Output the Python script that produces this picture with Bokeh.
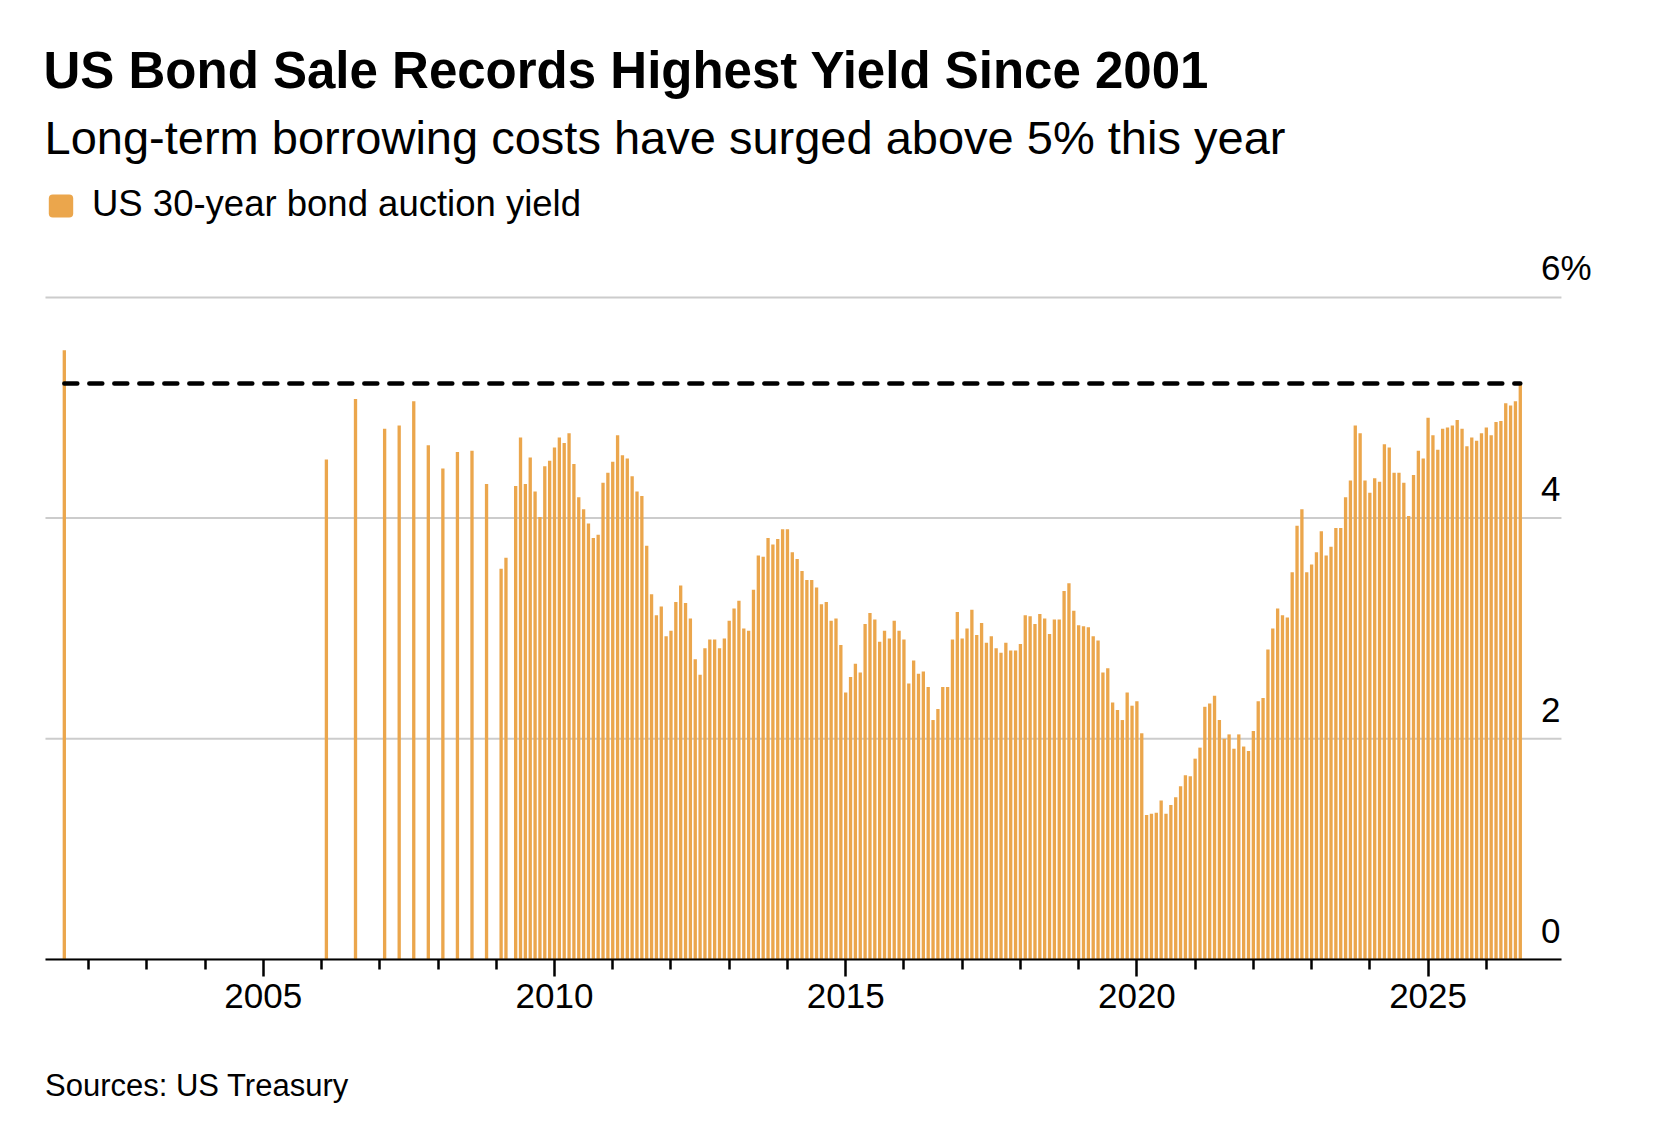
import pandas as pd
from bokeh.plotting import figure
from bokeh.layouts import column
from bokeh.models import (Range1d, FixedTicker, Label, LabelSet,
                          BoxAnnotation, ColumnDataSource)
from bokeh.core.properties import value
from bokeh.embed import file_html
from bokeh.resources import INLINE

# ---------------- data ----------------
# early (irregular) auctions
early_months = ["2001-08", "2006-02", "2006-08", "2007-02", "2007-05", "2007-08",
                "2007-11", "2008-02", "2008-05", "2008-08", "2008-11", "2009-02",
                "2009-03"]
early_yields = [5.52, 4.53, 5.08, 4.81, 4.84, 5.06, 4.66, 4.45, 4.60, 4.61, 4.31,
                3.54, 3.64]

# monthly auctions from May 2009
monthly_start = "2009-05"
y2009 = [4.29, 4.73, 4.31, 4.55, 4.24, 4.01, 4.47, 4.52]
y2010 = [4.64, 4.73, 4.68, 4.77, 4.49, 4.19, 4.08, 3.95, 3.82, 3.85, 4.32, 4.41]
y2011 = [4.51, 4.75, 4.57, 4.54, 4.38, 4.24, 4.20, 3.75, 3.31, 3.12, 3.20, 2.93]
y2012 = [2.98, 3.24, 3.39, 3.23, 3.09, 2.72, 2.58, 2.82, 2.90, 2.90, 2.82, 2.91]
y2013 = [3.07, 3.18, 3.25, 3.00, 2.98, 3.35, 3.66, 3.65, 3.82, 3.76, 3.81, 3.90]
y2014 = [3.90, 3.69, 3.63, 3.52, 3.44, 3.44, 3.37, 3.22, 3.24, 3.07, 3.09, 2.85]
y2015 = [2.42, 2.56, 2.68, 2.60, 3.04, 3.14, 3.08, 2.88, 2.98, 2.91, 3.07, 2.98]
y2016 = [2.90, 2.50, 2.71, 2.59, 2.61, 2.47, 2.17, 2.27, 2.47, 2.47, 2.90, 3.15]
y2017 = [2.91, 3.00, 3.17, 2.94, 3.05, 2.87, 2.93, 2.82, 2.78, 2.87, 2.80, 2.80]
y2018 = [2.86, 3.12, 3.11, 3.04, 3.13, 3.09, 2.95, 3.08, 3.08, 3.34, 3.41, 3.16]
y2019 = [3.03, 3.02, 3.01, 2.93, 2.89, 2.60, 2.64, 2.33, 2.26, 2.17, 2.42, 2.30]
y2020 = [2.34, 2.05, 1.31, 1.32, 1.33, 1.44, 1.32, 1.40, 1.47, 1.57, 1.67, 1.66]
y2021 = [1.82, 1.92, 2.29, 2.32, 2.39, 2.17, 2.00, 2.04, 1.91, 2.04, 1.93, 1.89]
y2022 = [2.07, 2.34, 2.37, 2.81, 3.00, 3.18, 3.12, 3.10, 3.51, 3.93, 4.08, 3.51]
y2023 = [3.58, 3.69, 3.88, 3.66, 3.74, 3.91, 3.91, 4.19, 4.34, 4.84, 4.77, 4.34]
y2024 = [4.23, 4.36, 4.33, 4.67, 4.64, 4.41, 4.41, 4.32, 4.02, 4.39, 4.61, 4.54]
y2025 = [4.91, 4.75, 4.62, 4.81, 4.82, 4.84, 4.89, 4.81, 4.65, 4.73, 4.70, 4.77]
y2026 = [4.82, 4.75, 4.87, 4.88, 5.04, 5.02, 5.06, 5.22]

label_years = [2005, 2010, 2015, 2020, 2025]
minor_years = [2002, 2003, 2004, 2006, 2007, 2008, 2009, 2011, 2012, 2013, 2014,
               2016, 2017, 2018, 2019, 2021, 2022, 2023, 2024, 2026]
axis_span = [2001.26, 2027.29]
y_ticks = [0, 2, 4, 6]
y_tick_labels = ["0", "2", "4", "6%"]

title = "US Bond Sale Records Highest Yield Since 2001"
subtitle = "Long-term borrowing costs have surged above 5% this year"
legend_label = "US 30-year bond auction yield"
source_note = "Sources: US Treasury"

ORANGE = "#EBA64C"
GRID = "#cccccc"
FONT = "Liberation Sans"

# ---------------- build ----------------
monthly_yields = (y2009 + y2010 + y2011 + y2012 + y2013 + y2014 + y2015 + y2016 +
                  y2017 + y2018 + y2019 + y2020 + y2021 + y2022 + y2023 + y2024 +
                  y2025 + y2026)
monthly_periods = list(pd.period_range(monthly_start, periods=len(monthly_yields), freq="M"))
periods = [pd.Period(m, "M") for m in early_months] + monthly_periods
xs = [p.year + (p.month - 1) / 12 for p in periods]
ys = early_yields + monthly_yields
src = ColumnDataSource(dict(x=xs, y=ys))

W = 1650
p = figure(width=W, height=1060, title=None,
           x_range=Range1d(2000.4876, 2028.819), y_range=Range1d(0, 8.6905),
           output_backend="svg", toolbar_location=None, y_axis_location=None,
           min_border_left=0, min_border_right=0, min_border_top=0,
           min_border_bottom=101)
p.outline_line_color = None
p.grid.visible = False
p.background_fill_color = "white"
p.border_fill_color = "white"

xa = p.xaxis[0]
xa.bounds = (axis_span[0], axis_span[1])
xa.ticker = FixedTicker(ticks=label_years, minor_ticks=minor_years)
xa.axis_line_color = "black"
xa.axis_line_width = 2
xa.major_tick_line_color = "black"
xa.minor_tick_line_color = "black"
xa.major_tick_line_width = 2.5
xa.minor_tick_line_width = 2.5
xa.major_tick_out = 17
xa.major_tick_in = 0
xa.minor_tick_out = 10
xa.minor_tick_in = 0
xa.major_label_text_font = FONT
xa.major_label_text_font_size = "35px"
xa.major_label_text_color = "black"
xa.major_label_standoff = 7

# horizontal gridlines over the axis extent
p.segment(x0=[axis_span[0]] * len(y_ticks), x1=[axis_span[1]] * len(y_ticks),
          y0=y_ticks, y1=y_ticks, line_color=GRID, line_width=2)

p.vbar(x="x", top="y", bottom=0, width=0.057, source=src,
       fill_color=ORANGE, line_color=None)

p.line(x=[xs[0], xs[-1]], y=[ys[-1], ys[-1]], line_color="black",
       line_width=4.5, line_dash="13 12", line_cap="round")

lab_src = ColumnDataSource(dict(y=y_ticks, text=y_tick_labels))
p.add_layout(LabelSet(x=1540.5, y="y", text="text", source=lab_src,
                      x_units="screen", y_units="data", y_offset=17,
                      text_font=value(FONT), text_font_size=value("35px"),
                      text_color="black", text_align="left",
                      text_baseline="alphabetic"))


def add_text(fig, txt, x, y, size, bold=False):
    fig.add_layout(Label(x=x, y=y, x_units="screen", y_units="screen", text=txt,
                         text_font=FONT, text_font_size=size,
                         text_font_style="bold" if bold else "normal",
                         text_color="black", text_align="left",
                         text_baseline="alphabetic"))


add_text(p, title, 43, 889.5, "51px", bold=True)
add_text(p, subtitle, 44, 822, "47px")
add_text(p, legend_label, 91.5, 756, "36.5px")

p.add_layout(BoxAnnotation(left=48.3, right=72.7, bottom=742, top=765,
                           left_units="screen", right_units="screen",
                           bottom_units="screen", top_units="screen",
                           fill_color=ORANGE, fill_alpha=1.0, line_color=None,
                           border_radius=4))

# footer
f = figure(width=W, height=70, title=None, x_range=Range1d(0, 1), y_range=Range1d(0, 1),
           output_backend="svg", toolbar_location=None,
           x_axis_location=None, y_axis_location=None,
           min_border_left=0, min_border_right=0, min_border_top=0, min_border_bottom=0)
f.outline_line_color = None
f.grid.visible = False
add_text(f, source_note, 44.5, 45, "31px")

layout = column(p, f, spacing=0)
open("out.html", "w").write(file_html(layout, INLINE))
